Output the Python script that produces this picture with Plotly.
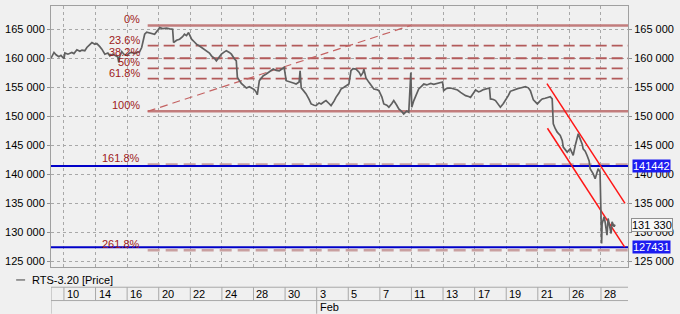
import plotly.graph_objects as go

# ---------------- data ----------------
# trading-day index (0 = Jan 10, 2020; Feb 24 holiday skipped)
price_t = [-0.82,-0.69,-0.63,-0.50,-0.32,-0.19,0.00,0.06,0.25,0.50,
           0.63,0.82,1.01,1.14,1.32,1.45,1.64,1.77,1.96,2.08,
           2.27,2.40,2.59,2.78,2.90,3.09,3.22,3.41,3.47,3.53,
           3.66,3.79,3.97,4.16,4.29,4.48,4.61,4.79,4.92,5.05,
           5.11,5.24,5.36,5.55,5.74,5.93,6.06,6.25,6.50,6.69,
           6.88,6.94,7.13,7.32,7.51,7.63,7.76,7.89,8.08,8.26,
           8.39,8.58,8.71,8.90,9.02,9.21,9.34,9.53,9.65,9.84,
           9.97,10.16,10.28,10.47,10.60,10.79,10.91,10.98,11.10,11.23,
           11.42,11.55,11.74,11.86,12.05,12.18,12.24,12.37,12.49,12.62,
           12.81,12.93,13.12,13.25,13.44,13.63,13.82,13.94,14.07,14.26,
           14.38,14.57,14.70,14.89,14.95,15.02,15.14,15.33,15.52,15.65,
           15.84,15.96,16.15,16.28,16.47,16.59,16.78,16.91,17.10,17.22,
           17.41,17.54,17.73,17.85,18.04,18.17,18.30,18.49,18.68,18.80,
           18.93,18.99,19.12,19.31,19.50,19.62,19.81,19.94,20.13,20.25,
           20.44,20.57,20.76,20.88,21.07,21.20,21.39,21.51,21.70,21.83,
           21.96,22.02,22.15,22.33,22.46,22.65,22.78,22.97,23.22,23.41,
           23.66,23.85,23.97,24.04,24.23,24.48,24.73,24.92,25.11,25.30,
           25.43,25.62,25.74,25.93,26.06,26.25,26.37,26.56,26.69,26.88,
           26.94,27.00,27.19,27.32,27.51,27.63,27.82,27.95,28.14,28.26,
           28.45,28.58,28.77,28.90,29.09,29.21,29.40,29.53,29.72,29.84,
           29.97,30.16,30.28,30.47,30.60,30.79,30.91,30.98,31.10,31.23,
           31.42,31.55,31.61,31.74,31.86,32.05,32.18,32.24,32.37,32.49,
           32.56,32.68,32.81,32.87,33.00,33.12,33.25,33.31,33.44,33.50,
           33.63,33.75,33.82,33.94,34.00,34.04,34.07,34.20,34.26,34.32,
           34.38,34.45,34.57,34.64,34.70,34.83,34.89]

price_v = [160000,160700,161000,160600,160250,160500,159900,160900,160700,161000,
           160800,161450,161200,161400,161300,161850,162300,162700,162400,162530,
           162000,161560,160700,160900,160420,160700,160500,160200,159270,160300,
           161150,160700,160500,160900,161000,160800,161000,161100,161850,163500,
           164140,164500,164420,164300,164140,164800,165280,165100,165200,165050,
           165000,162700,163100,163280,163700,164140,163900,164420,163280,162800,
           162430,162100,161850,161600,161280,160900,160420,160000,159560,160200,
           160700,161100,161280,161000,160700,159900,159560,156700,156200,155660,
           155200,154870,155100,154930,154600,154120,153700,156130,156500,156990,
           157300,157550,157800,158130,157900,157840,158200,158410,156130,156000,
           155840,155700,155550,155900,157840,154900,154500,153850,152900,152130,
           151900,151840,152300,152130,152500,152700,152200,151840,152600,153260,
           154000,154700,155000,155270,155550,157840,158200,158130,157600,156990,
           157500,158130,156600,155840,155200,154700,154600,154410,153300,152130,
           151900,151560,152200,152700,151900,151270,150800,150410,150900,150700,
           157550,151560,152700,153800,154700,155200,155550,155400,155660,155500,
           155700,155840,155900,154410,154800,154870,154700,154530,154120,153800,
           153560,153400,153260,154000,154530,154200,154300,154600,154700,154870,
           154870,152990,152900,152700,152100,151560,152200,152700,153600,154300,
           154500,154700,154800,154870,155000,155100,154900,154410,152820,152500,
           152130,152700,152990,153100,153260,153380,152990,148700,147900,147260,
           146690,145800,144680,144300,143820,144410,143500,143250,144970,146300,
           146980,146110,145200,144400,144000,143250,142300,140960,140500,140110,
           139250,140200,140960,140390,132670,128090,131500,132670,131800,130970,
           129500,132390,130970,129800,131830,131000,131330]
assert len(price_t) == len(price_v)

tick_days = [0, 2, 4, 6, 8, 10, 12, 14, 16, 18, 20, 22, 24, 26, 28, 30, 32, 34]
tick_labels = ["10", "14", "16", "20", "22", "24", "28", "30", "3", "5", "7",
               "11", "13", "17", "19", "21", "26", "28"]
month_day = 16
month_label = "Feb"

y_ticks = [125000, 130000, 135000, 140000, 145000, 150000, 155000, 160000, 165000]

fib_high = 165650
fib_low = 150850
fib_start_t = 5.30
fib_trend_end_t = 21.96
fib_levels = [0.0, 0.236, 0.382, 0.5, 0.618, 1.0, 1.618, 2.618]
fib_texts = ["0%", "23.6%", "38.2%", "50%", "61.8%", "100%", "161.8%", "261.8%"]

blue_levels = [141442, 127431]
last_price = 131330

chan_upper_t = [30.58, 35.52]
chan_upper_v = [155620, 135000]
chan_lower_t = [30.61, 35.50]
chan_lower_v = [147940, 127450]

series_name = "RTS-3.20 [Price]"

# ---------------- figure ----------------
X_MIN, X_MAX = -0.82, 35.71
Y_MIN, Y_MAX = 124030, 169000
FONT = "Liberation Sans, Arial, sans-serif"
BG = "#f0f0f0"

fig = go.Figure()

far_left, far_right = X_MIN - 5, X_MAX + 5
for lvl, txt in zip(fib_levels, fib_texts):
    val = fib_high - lvl * (fib_high - fib_low)
    if lvl in (0.0, 1.0):
        line = dict(color="#c27c7c", width=2.5)
    elif lvl > 1.0:
        line = dict(color="#c9a0a0", width=2.5, dash="12px,6px")
    else:
        line = dict(color="#b25a5a", width=1.8, dash="11px,5px")
    fig.add_trace(go.Scatter(x=[fib_start_t, far_right], y=[val, val], mode="lines",
                             line=line, hoverinfo="skip", showlegend=False))
    fig.add_annotation(x=fib_start_t, y=val, xref="x", yref="y", text=txt,
                       showarrow=False, xanchor="right", yanchor="bottom",
                       xshift=-6, yshift=-2, font=dict(family=FONT, size=11, color="#9e1a1a"))

# fib trend line
fig.add_trace(go.Scatter(x=[fib_start_t, fib_trend_end_t], y=[fib_low, fib_high], mode="lines",
                         line=dict(color="#c46262", width=1.2, dash="8px,5px"),
                         hoverinfo="skip", showlegend=False))

# blue horizontal levels
for lv in blue_levels:
    fig.add_trace(go.Scatter(x=[far_left, far_right], y=[lv, lv], mode="lines",
                             line=dict(color="#0000c8", width=2),
                             hoverinfo="skip", showlegend=False))

# channel lines
fig.add_trace(go.Scatter(x=chan_upper_t, y=chan_upper_v, mode="lines",
                         line=dict(color="#ff1515", width=1.5), hoverinfo="skip", showlegend=False))
fig.add_trace(go.Scatter(x=chan_lower_t, y=chan_lower_v, mode="lines",
                         line=dict(color="#ff1515", width=1.5), hoverinfo="skip", showlegend=False))

# price
fig.add_trace(go.Scatter(x=price_t, y=price_v, mode="lines", name=series_name,
                         line=dict(color="#606060", width=1.7), showlegend=False))

# invisible trace for the right axis
fig.add_trace(go.Scatter(x=[price_t[-1]], y=[price_v[-1]], yaxis="y2", mode="markers",
                         marker=dict(opacity=0), hoverinfo="skip", showlegend=False))

axis_common = dict(range=[Y_MIN, Y_MAX], tickvals=y_ticks, tickformat=",d",
                   ticks="outside", ticklen=3, tickcolor="#909090",
                   tickfont=dict(family=FONT, size=11, color="#000000"),
                   zeroline=False)

fig.update_layout(
    width=680, height=314,
    margin=dict(l=49, r=52, t=5, b=47),
    paper_bgcolor=BG, plot_bgcolor=BG,
    separators=". ",
    xaxis=dict(range=[X_MIN, X_MAX], tickvals=tick_days, showticklabels=False,
               showgrid=True, gridcolor="#a8a8a8", griddash="dot", gridwidth=1,
               zeroline=False, showline=True, mirror=True, linecolor="#a0a0a0", linewidth=1,
               ticks=""),
    yaxis=dict(**axis_common, side="left", showgrid=True, gridcolor="#a8a8a8",
               griddash="dot", gridwidth=1, showline=True, mirror=True,
               linecolor="#a0a0a0", linewidth=1),
    yaxis2=dict(**axis_common, side="right", overlaying="y", showgrid=False,
                showline=False),
    showlegend=False,
)

# right-side value boxes
for lv in blue_levels:
    fig.add_annotation(x=1, y=lv, xref="paper", yref="y", text=str(lv), showarrow=False,
                       xanchor="left", yanchor="middle", xshift=4,
                       bgcolor="#1c1cf0", borderpad=0,
                       font=dict(family=FONT, size=11, color="#ffffff"))
fig.add_annotation(x=1, y=last_price, xref="paper", yref="y",
                   text=f"{last_price:,}".replace(",", " "), showarrow=False,
                   xanchor="left", yanchor="middle", xshift=3,
                   bgcolor="#f8f8f8", bordercolor="#909090", borderwidth=1, borderpad=0,
                   font=dict(family=FONT, size=11, color="#000000"))

# bottom date scale
ROW_TOP, ROW_MID, ROW_BOT = -0.0775, -0.1286, -0.179
line_gray = dict(color="#a8a8a8", width=1)
fig.add_shape(type="line", xref="x", yref="paper", x0=X_MIN, x1=X_MAX, y0=ROW_TOP, y1=ROW_TOP, line=line_gray)
fig.add_shape(type="line", xref="x", yref="paper", x0=X_MIN, x1=X_MAX, y0=ROW_MID, y1=ROW_MID, line=line_gray)
fig.add_shape(type="line", xref="x", yref="paper", x0=X_MIN, x1=X_MIN, y0=ROW_TOP, y1=ROW_BOT, line=line_gray)
for d, lab in zip(tick_days, tick_labels):
    fig.add_shape(type="line", xref="x", yref="paper", x0=d, x1=d, y0=ROW_TOP, y1=ROW_MID, line=line_gray)
    fig.add_annotation(x=d, y=(ROW_TOP + ROW_MID) / 2, xref="x", yref="paper", text=lab,
                       showarrow=False, xanchor="left", yanchor="middle", xshift=1,
                       font=dict(family=FONT, size=11, color="#000000"))
fig.add_shape(type="line", xref="x", yref="paper", x0=month_day, x1=month_day,
              y0=ROW_MID, y1=ROW_BOT, line=line_gray)
fig.add_annotation(x=month_day, y=-0.153, xref="x", yref="paper", text=month_label,
                   showarrow=False, xanchor="left", yanchor="middle", xshift=1,
                   font=dict(family=FONT, size=11, color="#000000"))

# legend-like label
fig.add_shape(type="line", xref="paper", yref="paper", x0=-0.0604, x1=-0.0449,
              y0=-0.0496, y1=-0.0496, line=dict(color="#5e5e5e", width=1.2))
fig.add_annotation(x=-0.0363, y=-0.0496, xref="paper", yref="paper", text=series_name,
                   showarrow=False, xanchor="left", yanchor="middle",
                   font=dict(family=FONT, size=11, color="#000000"))

fig.write_html("out.html")
